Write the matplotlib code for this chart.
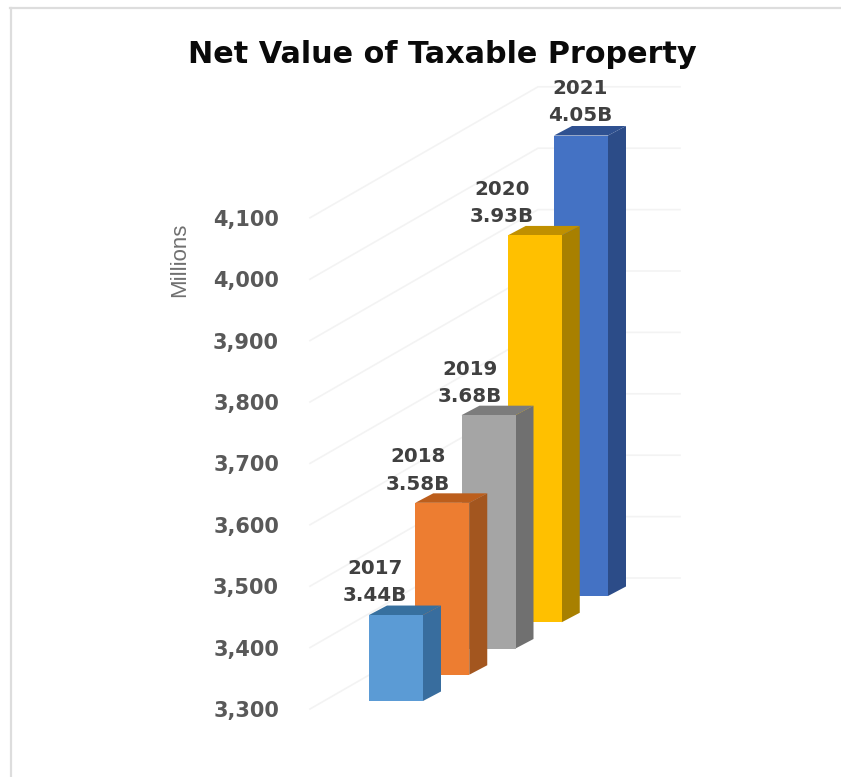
import matplotlib
matplotlib.use("Agg")
import matplotlib.pyplot as plt
from matplotlib.patches import Polygon

years = ["2017", "2018", "2019", "2020", "2021"]
values = [3440, 3580, 3680, 3930, 4050]
value_labels = ["3.44B", "3.58B", "3.68B", "3.93B", "4.05B"]
axis_ticks = [3300, 3400, 3500, 3600, 3700, 3800, 3900, 4000, 4100]

front_colors = ["#5B9BD5", "#ED7D31", "#A5A5A5", "#FFC000", "#4472C4"]
side_colors = ["#386D9E", "#A3561F", "#707070", "#A88000", "#2C4C88"]
top_colors = ["#37709F", "#BC5E1C", "#7C7C7C", "#C09000", "#2F5191"]
label_shift_px = [(-21, 39.5), (-24, 38.5), (-19, 38), (-33, 38.5), (-1, 39.5)]

W, H = 841, 777
PX_PER_UNIT = 61.4 / 100
Y_3300 = 709
PX_PER_CAT = 46.25
X_CAT0 = 396
LEFT, RIGHT, TOP, BOTTOM = 286, 700, 40, 760

fig = plt.figure(figsize=(W / 100, H / 100), dpi=100, facecolor="white")
ax = fig.add_axes([LEFT / W, 1 - BOTTOM / H, (RIGHT - LEFT) / W, (BOTTOM - TOP) / H])
ax.patch.set_alpha(0)
ax.set_xlim((LEFT - X_CAT0) / PX_PER_CAT, (RIGHT - X_CAT0) / PX_PER_CAT)
ax.set_ylim(3300 - (BOTTOM - Y_3300) / PX_PER_UNIT, 3300 + (Y_3300 - TOP) / PX_PER_UNIT)
for spine in ax.spines.values():
    spine.set_visible(False)
ax.set_xticks([])
ax.set_yticks(axis_ticks)
ax.set_yticklabels([f"{t:,}" for t in axis_ticks], fontsize=15, fontweight="bold", color="#595959")
ax.tick_params(axis="y", length=0, pad=5)

# Oblique projection: each category sits further back on the floor
FLOOR_RISE = 26.25 / PX_PER_UNIT
FLOOR_OFFSET = 8 / PX_PER_UNIT
BAR_W = 54 / PX_PER_CAT
SIDE_DX = 18 / PX_PER_CAT
SIDE_DY = 9.5 / PX_PER_UNIT
WALL_RISE = 131 / PX_PER_UNIT
GRID_START = (310 - X_CAT0) / PX_PER_CAT
GRID_CORNER = (538 - X_CAT0) / PX_PER_CAT
GRID_END = (680 - X_CAT0) / PX_PER_CAT

for t in axis_ticks:
    ax.plot([GRID_START, GRID_CORNER, GRID_END], [t, t + WALL_RISE, t + WALL_RISE],
            color="#F3F3F3", lw=1.2, zorder=1)

for i, v in enumerate(values):
    x0 = i - BAR_W / 2
    x1 = i + BAR_W / 2
    base = 3300 + FLOOR_OFFSET + i * FLOOR_RISE
    top = base + (v - 3300)
    z = 10 - i
    ax.add_patch(Polygon([(x0, base), (x1, base), (x1, top), (x0, top)],
                         fc=front_colors[i], ec="none", zorder=z + 0.2))
    ax.add_patch(Polygon([(x1, base), (x1 + SIDE_DX, base + SIDE_DY),
                          (x1 + SIDE_DX, top + SIDE_DY), (x1, top)],
                         fc=side_colors[i], ec="none", zorder=z + 0.1))
    ax.add_patch(Polygon([(x0, top), (x1, top), (x1 + SIDE_DX, top + SIDE_DY),
                          (x0 + SIDE_DX, top + SIDE_DY)],
                         fc=top_colors[i], ec="none", zorder=z + 0.1))
    dx, dy = label_shift_px[i]
    ax.annotate(f"{years[i]}\n{value_labels[i]}", (i, top), xytext=(dx, dy),
                textcoords="offset pixels", ha="center", va="center_baseline",
                multialignment="center", fontsize=14.3, fontweight="bold",
                color="#404040", linespacing=1.55, zorder=20, annotation_clip=False)

fig.text(442 / W, 1 - 54.5 / H, "Net Value of Taxable Property", ha="center", va="center",
         fontsize=21.8, fontweight="bold", color="#0A0A0A")
fig.text(180 / W, 1 - 260 / H, "Millions", rotation=90, ha="center", va="center",
         fontsize=16, color="#707070", family="Liberation Sans")

# Outer chart frame
fig.add_artist(plt.Line2D([10 / W, 841 / W], [1 - 7.5 / H, 1 - 7.5 / H], color="#DDDDDD", lw=1.6))
fig.add_artist(plt.Line2D([11 / W, 11 / W], [0, 1 - 7.5 / H], color="#DDDDDD", lw=1.6))

fig.savefig("out.png", dpi=100)
